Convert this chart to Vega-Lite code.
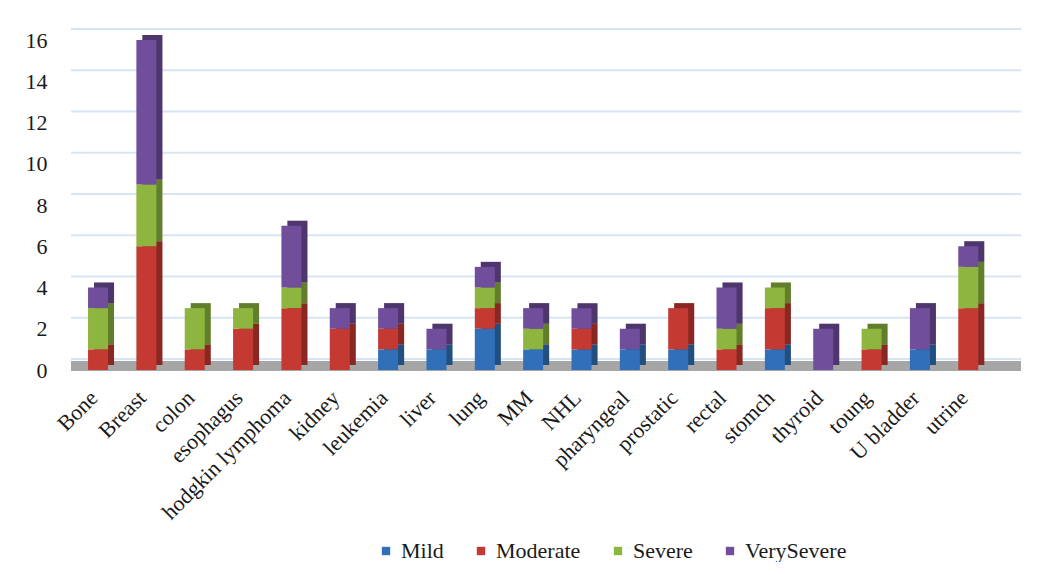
{
  "$schema": "https://vega.github.io/schema/vega-lite/v6.json",
  "width": 950,
  "height": 330,
  "padding": {"left": 25, "top": 28, "right": 0, "bottom": 0},
  "background": "white",
  "config": {
    "font": "Times New Roman, Liberation Serif, serif",
    "style": {"guide-label": {"font": "Times New Roman, Liberation Serif, serif"}},
    "axis": {"labelFont": "Times New Roman, Liberation Serif, serif"},
    "legend": {"labelFont": "Times New Roman, Liberation Serif, serif"},
    "view": {"stroke": null}
  },
  "datasets": {
    "cases": [
      {"site": "Bone", "severity": "Moderate", "n": 1},
      {"site": "Bone", "severity": "Severe", "n": 2},
      {"site": "Bone", "severity": "VerySevere", "n": 1},
      {"site": "Breast", "severity": "Moderate", "n": 6},
      {"site": "Breast", "severity": "Severe", "n": 3},
      {"site": "Breast", "severity": "VerySevere", "n": 7},
      {"site": "colon", "severity": "Moderate", "n": 1},
      {"site": "colon", "severity": "Severe", "n": 2},
      {"site": "esophagus", "severity": "Moderate", "n": 2},
      {"site": "esophagus", "severity": "Severe", "n": 1},
      {"site": "hodgkin lymphoma", "severity": "Moderate", "n": 3},
      {"site": "hodgkin lymphoma", "severity": "Severe", "n": 1},
      {"site": "hodgkin lymphoma", "severity": "VerySevere", "n": 3},
      {"site": "kidney", "severity": "Moderate", "n": 2},
      {"site": "kidney", "severity": "VerySevere", "n": 1},
      {"site": "leukemia", "severity": "Mild", "n": 1},
      {"site": "leukemia", "severity": "Moderate", "n": 1},
      {"site": "leukemia", "severity": "VerySevere", "n": 1},
      {"site": "liver", "severity": "Mild", "n": 1},
      {"site": "liver", "severity": "VerySevere", "n": 1},
      {"site": "lung", "severity": "Mild", "n": 2},
      {"site": "lung", "severity": "Moderate", "n": 1},
      {"site": "lung", "severity": "Severe", "n": 1},
      {"site": "lung", "severity": "VerySevere", "n": 1},
      {"site": "MM", "severity": "Mild", "n": 1},
      {"site": "MM", "severity": "Severe", "n": 1},
      {"site": "MM", "severity": "VerySevere", "n": 1},
      {"site": "NHL", "severity": "Mild", "n": 1},
      {"site": "NHL", "severity": "Moderate", "n": 1},
      {"site": "NHL", "severity": "VerySevere", "n": 1},
      {"site": "pharyngeal", "severity": "Mild", "n": 1},
      {"site": "pharyngeal", "severity": "VerySevere", "n": 1},
      {"site": "prostatic", "severity": "Mild", "n": 1},
      {"site": "prostatic", "severity": "Moderate", "n": 2},
      {"site": "rectal", "severity": "Moderate", "n": 1},
      {"site": "rectal", "severity": "Severe", "n": 1},
      {"site": "rectal", "severity": "VerySevere", "n": 2},
      {"site": "stomch", "severity": "Mild", "n": 1},
      {"site": "stomch", "severity": "Moderate", "n": 2},
      {"site": "stomch", "severity": "Severe", "n": 1},
      {"site": "thyroid", "severity": "VerySevere", "n": 2},
      {"site": "toung", "severity": "Moderate", "n": 1},
      {"site": "toung", "severity": "Severe", "n": 1},
      {"site": "U bladder", "severity": "Mild", "n": 1},
      {"site": "U bladder", "severity": "VerySevere", "n": 2},
      {"site": "utrine", "severity": "Moderate", "n": 3},
      {"site": "utrine", "severity": "Severe", "n": 2},
      {"site": "utrine", "severity": "VerySevere", "n": 1}
    ],
    "gridlines": [
      {"v": 0}, {"v": 2}, {"v": 4}, {"v": 6}, {"v": 8},
      {"v": 10}, {"v": 12}, {"v": 14}, {"v": 16}
    ]
  },
  "layer": [
    {
      "data": {"name": "gridlines"},
      "mark": {"type": "rule", "color": "#D7E4F4", "strokeWidth": 2, "yOffset": -11},
      "encoding": {
        "y": {"field": "v", "type": "quantitative"}
      }
    },
    {
      "data": {"name": "gridlines"},
      "mark": {"type": "rule", "color": "#A6A6A6", "strokeWidth": 10, "yOffset": -4},
      "encoding": {
        "y": {"datum": 0, "type": "quantitative"}
      }
    },
    {
      "data": {"name": "cases"},
      "mark": {"type": "bar", "xOffset": 6, "yOffset": -5},
      "encoding": {
        "x": {
          "field": "site",
          "type": "nominal",
          "sort": ["Bone", "Breast", "colon", "esophagus", "hodgkin lymphoma", "kidney", "leukemia", "liver", "lung", "MM", "NHL", "pharyngeal", "prostatic", "rectal", "stomch", "thyroid", "toung", "U bladder", "utrine"]
        },
        "y": {"field": "n", "type": "quantitative", "stack": "zero"},
        "order": {"field": "severity", "sort": "ascending"},
        "color": {"field": "severity", "type": "nominal"}
      }
    },
    {
      "data": {"name": "cases"},
      "mark": {"type": "bar", "xOffset": 6, "yOffset": -5, "color": "black", "opacity": 0.3},
      "encoding": {
        "x": {
          "field": "site",
          "type": "nominal",
          "sort": ["Bone", "Breast", "colon", "esophagus", "hodgkin lymphoma", "kidney", "leukemia", "liver", "lung", "MM", "NHL", "pharyngeal", "prostatic", "rectal", "stomch", "thyroid", "toung", "U bladder", "utrine"]
        },
        "y": {"field": "n", "type": "quantitative", "stack": "zero"},
        "order": {"field": "severity", "sort": "ascending"},
        "detail": {"field": "severity", "type": "nominal"}
      }
    },
    {
      "data": {"name": "cases"},
      "mark": {"type": "bar"},
      "encoding": {
        "x": {
          "field": "site",
          "type": "nominal",
          "sort": ["Bone", "Breast", "colon", "esophagus", "hodgkin lymphoma", "kidney", "leukemia", "liver", "lung", "MM", "NHL", "pharyngeal", "prostatic", "rectal", "stomch", "thyroid", "toung", "U bladder", "utrine"],
          "scale": {"paddingInner": 0.586, "paddingOuter": 0.618, "align": 0.285},
          "axis": {
            "title": null,
            "labelAngle": -45,
            "labelFontSize": 22,
            "labelColor": "#1a1a1a",
            "labelPadding": 24,
            "labelOffset": -4,
            "ticks": false,
            "domain": false
          }
        },
        "y": {
          "field": "n",
          "type": "quantitative",
          "stack": "zero",
          "scale": {"domain": [0, 16], "nice": false},
          "axis": {
            "title": null,
            "values": [0, 2, 4, 6, 8, 10, 12, 14, 16],
            "grid": false,
            "ticks": false,
            "domain": false,
            "labelFontSize": 22,
            "labelColor": "#1a1a1a",
            "labelPadding": 24
          }
        },
        "order": {"field": "severity", "sort": "ascending"},
        "color": {
          "field": "severity",
          "type": "nominal",
          "scale": {
            "domain": ["Mild", "Moderate", "Severe", "VerySevere"],
            "range": ["#3170B8", "#C43A32", "#8DB53F", "#704E9C"]
          },
          "legend": {
            "title": null,
            "orient": "none",
            "legendX": 304,
            "legendY": 500,
            "direction": "horizontal",
            "symbolType": "square",
            "symbolSize": 70,
            "symbolStrokeWidth": 0,
            "labelFontSize": 22,
            "labelColor": "#1a1a1a",
            "labelOffset": 4,
            "columnPadding": 26
          }
        }
      }
    }
  ]
}
